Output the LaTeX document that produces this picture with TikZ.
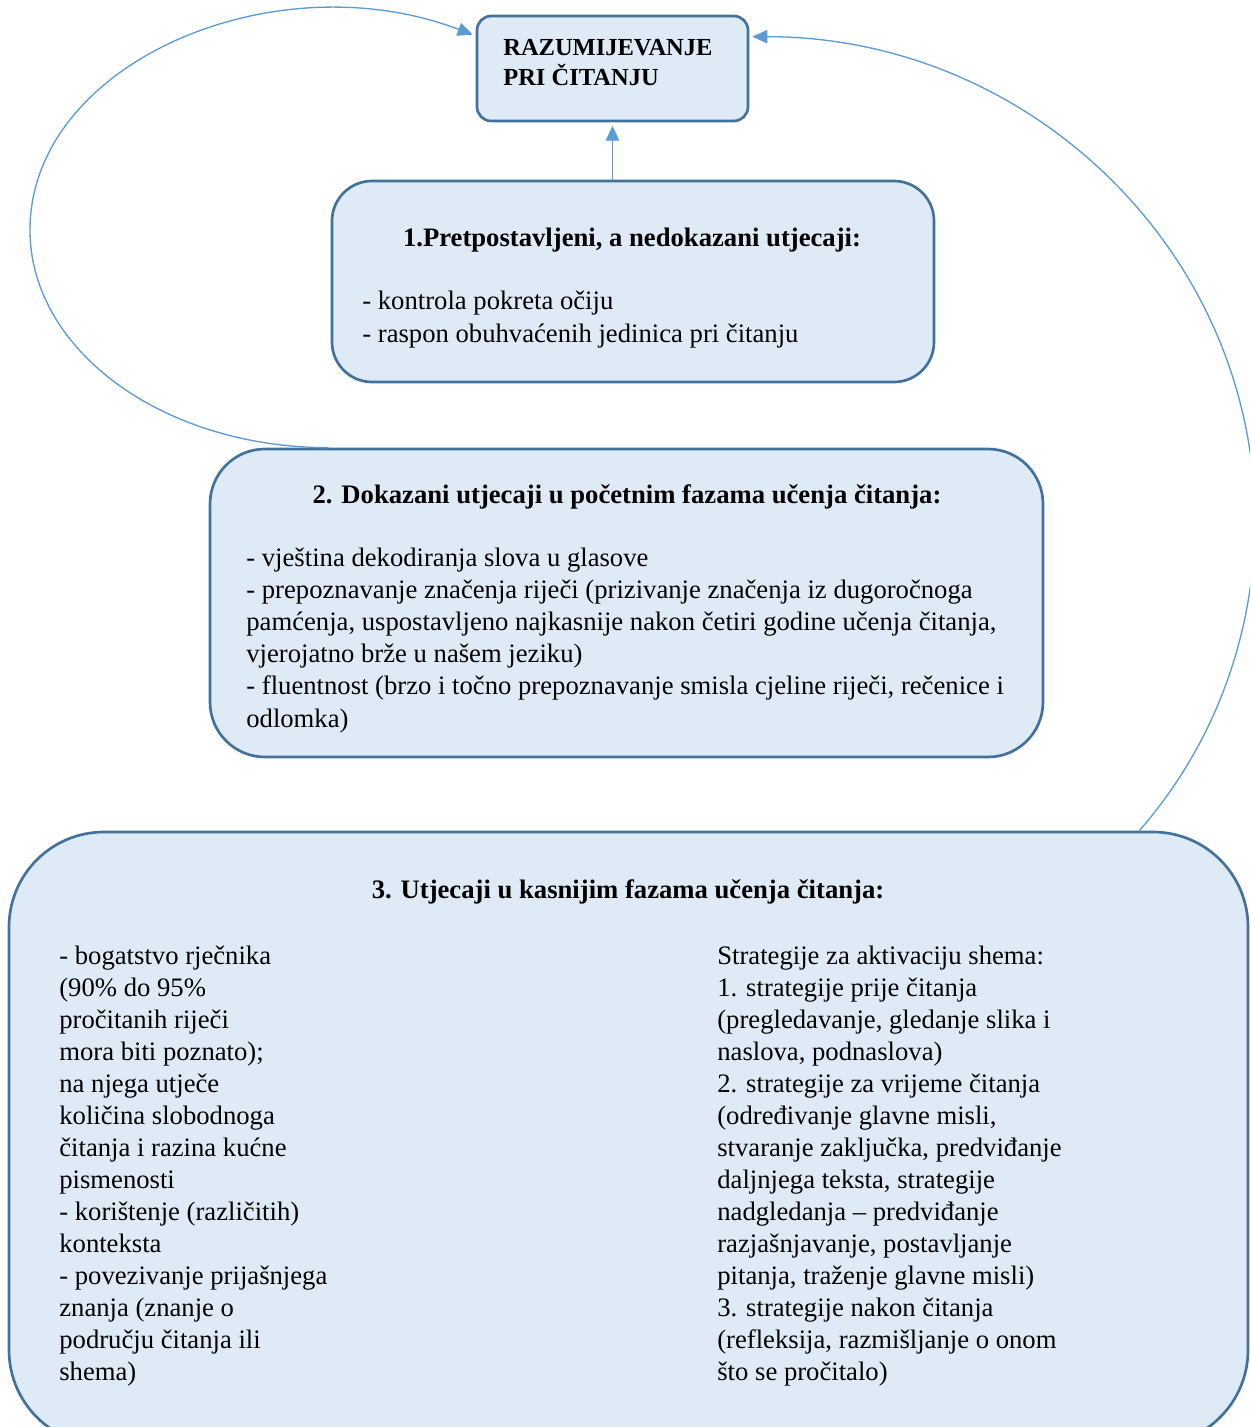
\documentclass[tikz,border=0pt]{standalone}
\usepackage{fontspec}
\setmainfont{Liberation Serif}
\usetikzlibrary{arrows.meta,calc,fit}

\definecolor{boxfill}{HTML}{DEEBF7}
\definecolor{boxline}{HTML}{41719C}
\definecolor{linkblue}{HTML}{5B9BD5}

\tikzset{
  box/.style={draw=boxline, fill=boxfill, line width=1.6pt, inner sep=0pt},
  txt/.style={inner sep=0pt, align=left, font=\fontsize{16}{19.3}\selectfont},
  head/.style={txt, font=\fontsize{16}{19.3}\selectfont\bfseries},
  link/.style={draw=linkblue, line width=0.8pt, -{Triangle[length=9pt,width=8pt]}}
}

\begin{document}
\begin{tikzpicture}[x=0.6pt,y=-0.6pt]

\useasboundingbox (0,0) rectangle (1250,1427);
\clip (0,0) rectangle (1250,1427);

% Boxes
\node[box, rounded corners=8.5pt, fit={(477,16) (748,121)}] (top) {};
\node[box, rounded corners=24pt, fit={(332,181) (934,382)}] (infl1) {};
\node[box, rounded corners=33pt, fit={(210,449) (1043,757)}] (infl2) {};
\node[box, rounded corners=57pt, fit={(9,832) (1248,1445)}] (infl3) {};

% Turning points of the loops
\coordinate (lturn) at (30,230);
\coordinate (rturn) at (1255,520);

% Arrows
\draw[link, shorten >=2pt] (top.south |- infl1.north) -- (top.south);
\draw[link] ($(infl2.north west)+(120,0)$) .. controls +(-166,0) and +(0,120) .. (lturn)
  .. controls +(0,-166) and +(-200,-76) .. ($(top.north west)+(-3,20)$);
\draw[link] ($(infl3.north east)+(-110,0)$) .. controls +(76,-87) and +(0,113) .. (rturn)
  .. controls +(0,-266) and +(279,0) .. ($(top.north east)+(3,22)$);

% Labels (base = baseline of the last line)
\node[head, font=\fontsize{14.7}{18}\selectfont\bfseries, anchor=base west] (toptxt) at (503,85) {RAZUMIJEVANJE\\PRI ČITANJU};

\node[head, anchor=base] (t1) at (632,246) {1.Pretpostavljeni, a nedokazani utjecaji:};
\node[txt, anchor=base west] (b1) at (362,342) {- kontrola pokreta očiju\\
- raspon obuhvaćenih jedinica pri čitanju};

\node[head, anchor=base] (t2) at (627,503) {2. Dokazani utjecaji u početnim fazama učenja čitanja:};
\node[txt, anchor=base west] (b2) at (246,727) {- vještina dekodiranja slova u glasove\\
- prepoznavanje značenja riječi (prizivanje značenja iz dugoročnoga\\
pamćenja, uspostavljeno najkasnije nakon četiri godine učenja čitanja,\\
vjerojatno brže u našem jeziku)\\
- fluentnost (brzo i točno prepoznavanje smisla cjeline riječi, rečenice i\\
odlomka)};

\node[head, anchor=base] (t3) at (628,898) {3. Utjecaji u kasnijim fazama učenja čitanja:};
\node[txt, font=\fontsize{16}{19.2}\selectfont, anchor=base west] (left3) at (59,1380) {- bogatstvo rječnika\\
(90\% do 95\%\\
pročitanih riječi\\
mora biti poznato);\\
na njega utječe\\
količina slobodnoga\\
čitanja i razina kućne\\
pismenosti\\
- korištenje (različitih)\\
konteksta\\
- povezivanje prijašnjega\\
znanja (znanje o\\
području čitanja ili\\
shema)};
\node[txt, font=\fontsize{16}{19.2}\selectfont, anchor=base west] (right3) at (717,1380) {Strategije za aktivaciju shema:\\
1. strategije prije čitanja\\
(pregledavanje, gledanje slika i\\
naslova, podnaslova)\\
2. strategije za vrijeme čitanja\\
(određivanje glavne misli,\\
stvaranje zaključka, predviđanje\\
daljnjega teksta, strategije\\
nadgledanja – predviđanje\\
razjašnjavanje, postavljanje\\
pitanja, traženje glavne misli)\\
3. strategije nakon čitanja\\
(refleksija, razmišljanje o onom\\
što se pročitalo)};

\end{tikzpicture}
\end{document}
